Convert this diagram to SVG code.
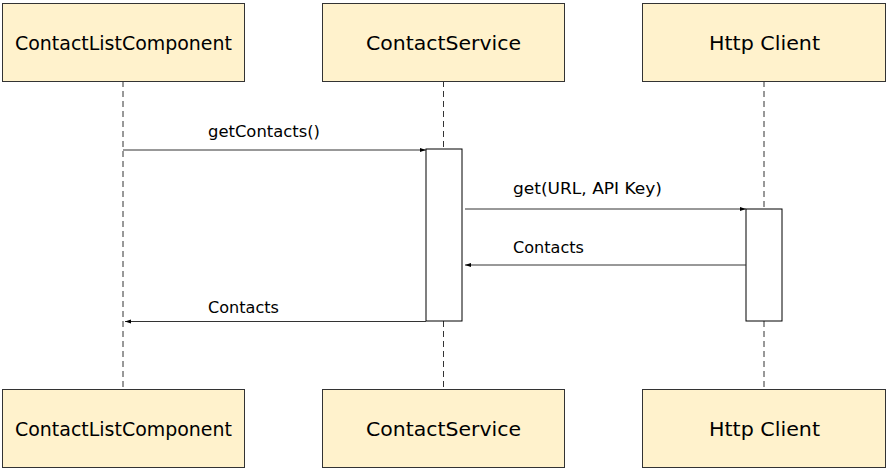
<svg xmlns="http://www.w3.org/2000/svg" width="889" height="472" viewBox="0 0 889 472">
<style>
.box{fill:#fff2cc;stroke:#333;stroke-width:1}
.t{font-family:"DejaVu Sans",Verdana,sans-serif;font-size:19px;fill:#000;text-anchor:middle;dominant-baseline:central}
.lbl{font-family:"DejaVu Sans",Verdana,sans-serif;font-size:15px;fill:#000}
.life{stroke:#333;stroke-dasharray:6,4;fill:none}
.act{fill:#fff;stroke:#000}
.msg{stroke:#333;fill:none;marker-end:url(#ah)}
</style>
<defs>
<marker id="ah" markerWidth="7" markerHeight="6" refX="6" refY="3" orient="auto" markerUnits="userSpaceOnUse">
<path d="M0,1 L6,3 L0,5 Z" fill="#000"/>
</marker>
</defs>
<g id="lifelines">
<line class="life" x1="123" y1="81" x2="123" y2="389"/>
<line class="life" x1="443.5" y1="81" x2="443.5" y2="389"/>
<line class="life" x1="764" y1="81" x2="764" y2="389"/>
</g>
<g id="act-service"><rect class="act" x="426" y="149" width="36" height="172"/></g>
<g id="act-http"><rect class="act" x="746" y="209" width="36" height="112"/></g>
<g id="connectors">
<line class="msg" x1="123" y1="150" x2="426" y2="150"/>
<text class="lbl" x="208" y="137" textLength="112" lengthAdjust="spacingAndGlyphs">getContacts()</text>
<line class="msg" x1="465" y1="209" x2="746" y2="209"/>
<text class="lbl" x="513" y="194" textLength="149" lengthAdjust="spacingAndGlyphs">get(URL, API Key)</text>
<line class="msg" x1="746" y1="265" x2="465" y2="265"/>
<text class="lbl" x="513" y="253" textLength="71" lengthAdjust="spacingAndGlyphs">Contacts</text>
<line class="msg" x1="426" y1="321.5" x2="125" y2="321.5"/>
<text class="lbl" x="208" y="313" textLength="71" lengthAdjust="spacingAndGlyphs">Contacts</text>
</g>
<g id="top-clc"><rect class="box" x="2.5" y="3.5" width="242" height="78"/><text class="t" x="123.5" y="42.5" textLength="217" lengthAdjust="spacingAndGlyphs">ContactListComponent</text></g>
<g id="top-cs"><rect class="box" x="322.5" y="3.5" width="242" height="78"/><text class="t" x="443.5" y="42.5" textLength="155" lengthAdjust="spacingAndGlyphs">ContactService</text></g>
<g id="top-http"><rect class="box" x="642.5" y="3.5" width="243" height="78"/><text class="t" x="764.5" y="42.5" textLength="111" lengthAdjust="spacingAndGlyphs">Http Client</text></g>
<g id="bot-clc"><rect class="box" x="2.5" y="389.5" width="242" height="78"/><text class="t" x="123.5" y="428.5" textLength="217" lengthAdjust="spacingAndGlyphs">ContactListComponent</text></g>
<g id="bot-cs"><rect class="box" x="322.5" y="389.5" width="242" height="78"/><text class="t" x="443.5" y="428.5" textLength="155" lengthAdjust="spacingAndGlyphs">ContactService</text></g>
<g id="bot-http"><rect class="box" x="642.5" y="389.5" width="243" height="78"/><text class="t" x="764.5" y="428.5" textLength="111" lengthAdjust="spacingAndGlyphs">Http Client</text></g>
</svg>
